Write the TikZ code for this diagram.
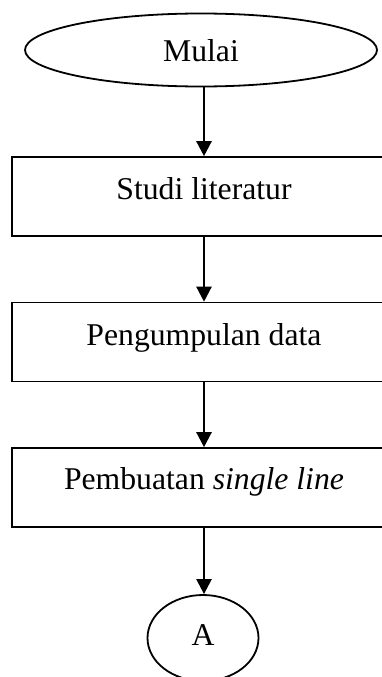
\documentclass[tikz,border=0pt]{standalone}
\usepackage{fontspec}
\setmainfont{Liberation Serif}
\usetikzlibrary{shapes.geometric,arrows.meta}
\tikzset{
  stepbox/.style={draw, line width=1.6pt, rectangle, minimum width=384pt, minimum height=79pt, inner sep=0pt},
  termshape/.style={draw, line width=1.8pt, ellipse, inner sep=0pt},
  txt/.style={anchor=base, inner sep=0pt, font=\fontsize{31.7}{38}\selectfont},
  conn/.style={line width=2.4pt, -{Triangle[length=15pt,width=15pt]}}
}
\begin{document}
\begin{tikzpicture}[x=1pt,y=-1pt]
\clip (0,0) rectangle (382,677);
\fill[white] (0,0) rectangle (382,677);
\node[termshape, minimum width=352pt, minimum height=73pt] (mulai) at (201,50) {};
\node[txt] (tmulai) at (201,62) {Mulai};
\node[stepbox] (b1) at (204,196.5) {};
\node[txt] (t1) at (204,199) {Studi literatur};
\node[stepbox] (b2) at (204,342) {};
\node[txt] (t2) at (204,345) {Pengumpulan data};
\node[stepbox] (b3) at (204,487.5) {};
\node[txt] (t3) at (204,489.5) {Pembuatan \textit{single line}};
\node[termshape, minimum width=111pt, minimum height=86pt] (a) at (203,638) {};
\node[txt] (ta) at (203,645) {A};
\draw[conn] (mulai.south -| b1.north) -- (b1.north);
\draw[conn] (b1.south) -- (b2.north);
\draw[conn] (b2.south) -- (b3.north);
\draw[conn] (b3.south) -- (b3.south |- a.north);
\end{tikzpicture}
\end{document}
